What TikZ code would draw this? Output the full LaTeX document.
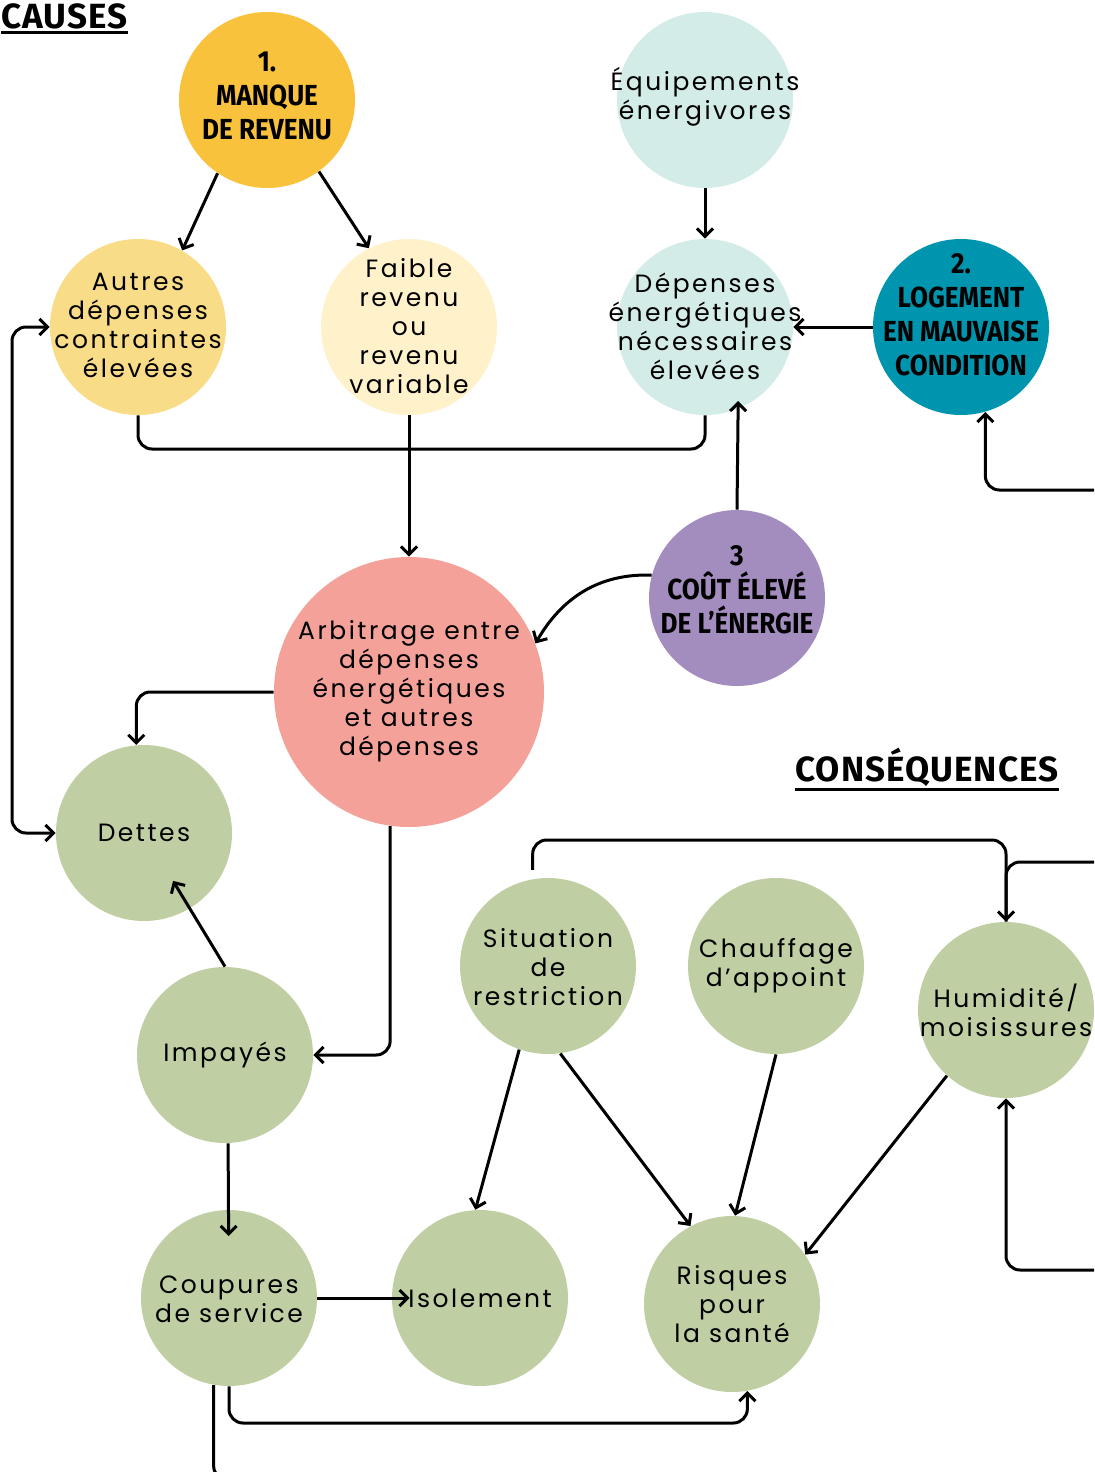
\documentclass[tikz,border=0pt]{standalone}
\usepackage{fontspec}
\setmainfont[LetterSpace=10]{Poppins}
\newfontfamily\ttlfont[FakeStretch=0.9]{Fira Sans}
\newfontfamily\headfont[LetterSpace=3]{Fira Sans}
\usetikzlibrary{arrows.meta}
\definecolor{cManque}{HTML}{F9C23C}
\definecolor{cAutres}{HTML}{F9DC87}
\definecolor{cFaible}{HTML}{FFF1CA}
\definecolor{cEquip}{HTML}{D4ECE7}
\definecolor{cLog}{HTML}{0095AE}
\definecolor{cCout}{HTML}{A38CBE}
\definecolor{cArb}{HTML}{F4A19A}
\definecolor{cG}{HTML}{BFCFA3}
\begin{document}
\begin{tikzpicture}[x=0.5pt,y=-0.5pt,
  >={Straight Barb[length=4pt,width=8pt]},
  circ/.style={circle,minimum size=88pt,inner sep=0pt},
  bigcirc/.style={circ,minimum size=135pt},
  txt/.style={align=center,inner sep=0pt,font=\fontsize{12.5}{14.5}\selectfont},
  ttl/.style={align=center,inner sep=0pt,font=\ttlfont\bfseries\fontsize{14.5}{17}\selectfont},
  head/.style={inner sep=0pt,font=\headfont\bfseries\fontsize{17.5}{20}\selectfont},
  conn/.style={line width=1.5pt,rounded corners=7pt},
  arr/.style={conn,->},
]
\useasboundingbox (0,0) rectangle (1094,1472);
\clip (0,0) rectangle (1094,1472);

% titles
\node[head,anchor=base west] (causes) at (1,28) {CAUSES};
\draw[line width=1.5pt] ([yshift=-2pt]causes.base west) -- ([yshift=-2pt]causes.base east);
\node[head,anchor=base west] (consq) at (795,781) {CONSÉQUENCES};
\draw[line width=1.5pt] ([yshift=-4pt]consq.base west) -- ([yshift=-4pt]consq.base east);

% causes
\node[circ,fill=cManque] (manque) at (267,100) {};
\node[ttl] (manqueT) at (267,96) {1.\\MANQUE\\DE REVENU};
\node[circ,fill=cEquip] (equip) at (705,100) {};
\node[txt] (equipT) at (705,97) {Équipements\\énergivores};
\node[circ,fill=cAutres] (autres) at (138,327) {};
\node[txt] (autresT) at (138,325) {Autres\\dépenses\\contraintes\\élevées};
\node[circ,fill=cFaible] (faible) at (409,327) {};
\node[txt] (faibleT) at (409,326) {Faible\\revenu\\ou\\revenu\\variable};
\node[circ,fill=cEquip] (depE) at (705,327) {};
\node[txt] (depET) at (705,326) {Dépenses\\énergétiques\\nécessaires\\élevées};
\node[circ,fill=cLog] (logement) at (961,327) {};
\node[ttl] (logT) at (961,315) {2.\\LOGEMENT\\EN MAUVAISE\\CONDITION};
\node[circ,fill=cCout] (cout) at (737,598) {};
\node[ttl] (coutT) at (737,590) {3\\COÛT ÉLEVÉ\\DE L’ÉNERGIE};
\node[bigcirc,fill=cArb] (arb) at (409,692) {};
\node[txt] (arbT) at (409,691) {Arbitrage entre\\dépenses\\énergétiques\\et autres\\dépenses};

% consequences
\node[circ,fill=cG] (dettes) at (144,833) {};
\node[txt] (dettesT) at (144,833) {Dettes};
\node[circ,fill=cG] (situation) at (548,966) {};
\node[txt] (situationT) at (548,967) {Situation\\de\\restriction};
\node[circ,fill=cG] (chauffage) at (776,966) {};
\node[txt] (chauffageT) at (776,966) {Chauffage\\d’appoint};
\node[circ,fill=cG] (humid) at (1006,1010) {};
\node[txt] (humidT) at (1006,1010) {Humidité/\\moisissures};
\node[circ,fill=cG] (impayes) at (225,1055) {};
\node[txt] (impayesT) at (225,1055) {Impayés};
\node[circ,fill=cG] (coupures) at (229,1298) {};
\node[txt] (coupuresT) at (229,1299) {Coupures\\de service};
\node[circ,fill=cG] (isol) at (480,1298) {};
\node[txt] (isolT) at (480,1298) {Isolement};
\node[circ,fill=cG] (risques) at (732,1304) {};
\node[txt] (risquesT) at (732,1304) {Risques\\pour\\la santé};

% helper coordinates
\coordinate (brk) at (409,449);
\coordinate (lft) at (12,580);
\coordinate (bot) at (480,1423);
\coordinate (offB) at (300,1480);
\coordinate (topL) at (770,840);
\coordinate (offR1) at (1110,862);
\coordinate (offR2) at (1110,1270);
\coordinate (offR3) at (1110,490);

% connectors
\draw[arr] (manque.236) -- (autres.60);
\draw[arr] (manque.306) -- (faible.117);
\draw[arr] (equip.south) -- (depE.north);
\draw[arr] (logement.west) -- (depE.east);
\draw[conn] (autres.south) |- (brk) -| (depE.south);
\draw[arr] (faible.south) -- (arb.north);
\draw[arr,shorten >=-4pt] (cout.north) -- (depE.-68);
\draw[arr] (cout.165) to[out=178,in=60] (arb.21);
\draw[arr] (arb.west) -| (dettes.95);
\draw[conn,<->] (autres.west) -| (lft) |- (dettes.west);
\draw[arr] (arb.-98) |- (impayes.east);
\draw[arr,shorten >=28pt] (impayes.north) -- (dettes.center);
\draw[arr,shorten >=31pt] (impayes.-88) -- (coupures.center);
\draw[arr,shorten >=-9pt] (coupures.east) -- (isol.west);
\draw[arr] (coupures.south) |- (bot) -| (risques.-80);
\draw[conn] (coupures.-100) |- (offB);
\draw[arr] (situation.-109) -- (isol.93);
\draw[arr] (situation.-82) -- (risques.118);
\draw[arr] (chauffage.south) -- (risques.88);
\draw[arr] (humid.-132) -- (risques.34);
\draw[arr,shorten <=4.5pt] (situation.100) |- (topL) -| (humid.north);
\draw[conn] (offR1) -| (humid.north);
\draw[arr] (offR2) -| (humid.south);
\draw[arr] (offR3) -| (logement.-74);
\end{tikzpicture}
\end{document}
